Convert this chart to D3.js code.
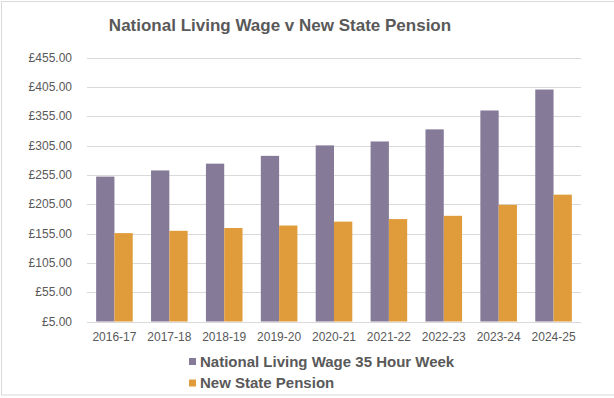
<!DOCTYPE html>
<html>
<head>
<meta charset="utf-8">
<script src="https://cdn.jsdelivr.net/npm/d3@7"></script>
<style>
  html, body { margin: 0; padding: 0; background: #fff; }
  svg { display: block; }
</style>
</head>
<body>
<svg id="chart"></svg>
<script>
// data
const years = ["2016-17", "2017-18", "2018-19", "2019-20", "2020-21", "2021-22", "2022-23", "2023-24", "2024-25"];
const livingWage = [252.00, 262.50, 274.05, 287.35, 305.20, 311.85, 332.50, 364.70, 400.40];
const statePension = [155.65, 159.55, 164.35, 168.60, 175.20, 179.60, 185.15, 203.85, 221.20];
const seriesNames = ["National Living Wage 35 Hour Week", "New State Pension"];
const yTicks = [5, 55, 105, 155, 205, 255, 305, 355, 405, 455];

const width = 614, height = 398;
const colors = ["#857b98", "#e09c3b"];
const textColor = "#595959";
const gridColor = "#d9d9d9";
const font = "'Liberation Sans', Arial, sans-serif";

const svg = d3.select("#chart")
    .attr("width", width)
    .attr("height", height)
    .attr("font-family", font);

// chart frame
svg.append("rect")
    .attr("x", 1.5).attr("y", 1.5)
    .attr("width", 620).attr("height", 393.5)
    .attr("fill", "#fff")
    .attr("stroke", gridColor);

const x = d3.scaleBand().domain(years).range([87, 581]);
const y = d3.scaleLinear().domain([5, 455]).range([321.5, 57.5]);
const x1 = d3.scaleBand()
    .domain([0, 1])
    .range([x.bandwidth() / 6, x.bandwidth() * 5 / 6]);

// title
svg.append("text")
    .attr("x", 280).attr("y", 31)
    .attr("text-anchor", "middle")
    .attr("font-size", 17)
    .attr("font-weight", "bold")
    .attr("fill", textColor)
    .text("National Living Wage v New State Pension");

// gridlines
svg.append("g")
    .selectAll("line")
    .data(yTicks)
    .join("line")
      .attr("x1", 87).attr("x2", 581)
      .attr("y1", d => Math.round(y(d)) + 0.5)
      .attr("y2", d => Math.round(y(d)) + 0.5)
      .attr("stroke", gridColor)
      .attr("stroke-width", 1);

// y labels
svg.append("g")
    .selectAll("text")
    .data(yTicks)
    .join("text")
      .attr("x", 72)
      .attr("y", d => y(d) + 4)
      .attr("text-anchor", "end")
      .attr("font-size", 12)
      .attr("fill", textColor)
      .text(d => "£" + d3.format(".2f")(d));

// bars
const rows = years.map((yr, i) => ({ year: yr, values: [livingWage[i], statePension[i]] }));

const groups = svg.append("g")
    .selectAll("g")
    .data(rows)
    .join("g")
      .attr("transform", d => `translate(${x(d.year)},0)`);

groups.selectAll("rect")
    .data(d => d.values.map((v, s) => ({ s, v })))
    .join("rect")
      .attr("x", d => x1(d.s))
      .attr("width", x1.bandwidth())
      .attr("y", d => y(d.v))
      .attr("height", d => y(5) - y(d.v))
      .attr("fill", d => colors[d.s]);

// x labels
svg.append("g")
    .selectAll("text")
    .data(years)
    .join("text")
      .attr("x", d => x(d) + x.bandwidth() / 2)
      .attr("y", 341)
      .attr("text-anchor", "middle")
      .attr("font-size", 12)
      .attr("fill", textColor)
      .text(d => d);

// legend
const legend = svg.append("g")
    .selectAll("g")
    .data(seriesNames)
    .join("g")
      .attr("transform", (d, i) => `translate(189,${361.5 + i * 21.5})`);

legend.append("rect")
    .attr("x", 0).attr("y", -3.5)
    .attr("width", 7).attr("height", 7)
    .attr("fill", (d, i) => colors[i]);

legend.append("text")
    .attr("x", 11)
    .attr("y", 5)
    .attr("font-size", 15)
    .attr("font-weight", "bold")
    .attr("fill", textColor)
    .text(d => d);
</script>
</body>
</html>
